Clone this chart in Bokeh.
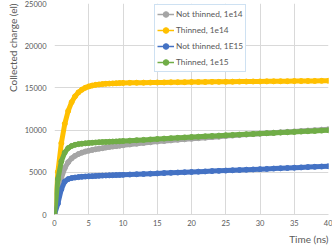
from bokeh.plotting import figure
from bokeh.models import Legend, LegendItem, FixedTicker, Range1d, Title
from bokeh.embed import file_html
from bokeh.resources import INLINE

time_ns = [0, 0.5, 1, 1.5, 2, 2.5, 3, 3.5, 4, 4.5, 5, 5.5, 6, 6.5, 7, 7.5, 8, 8.5, 9, 9.5, 10,
           11, 12, 13, 14, 15, 16, 17, 18, 19, 20, 21, 22, 23, 24, 25, 26, 27, 28, 29, 30,
           31, 32, 33, 34, 35, 36, 37, 38, 39, 40]

not_thinned_1e14 = [0, 2300, 4300, 5500, 6200, 6650, 6950, 7170, 7330, 7460, 7560, 7650, 7730, 7800, 7860, 7930, 8000, 8050, 8100, 8150, 8200,
                    8300, 8390, 8480, 8560, 8640, 8710, 8780, 8850, 8910, 8970, 9040, 9100, 9165, 9225, 9290, 9350, 9410, 9470, 9525, 9580,
                    9630, 9685, 9735, 9790, 9840, 9890, 9945, 9995, 10050, 10100]

thinned_1e14 = [0, 5060, 8460, 10740, 12270, 13310, 14000, 14470, 14790, 15020, 15170, 15280, 15360, 15410, 15450, 15490, 15510, 15530, 15550, 15570, 15590,
                15600, 15610, 15620, 15630, 15640, 15650, 15660, 15670, 15680, 15690, 15700, 15705, 15715, 15720, 15730, 15735, 15745, 15750, 15760, 15765,
                15775, 15780, 15790, 15795, 15805, 15810, 15820, 15825, 15835, 15840]

not_thinned_1e15 = [0, 1300, 3000, 3900, 4200, 4320, 4380, 4430, 4470, 4500, 4520, 4545, 4570, 4590, 4610, 4625, 4640, 4655, 4670, 4685, 4700,
                    4735, 4770, 4800, 4835, 4870, 4905, 4940, 4970, 5005, 5040, 5075, 5105, 5140, 5170, 5205, 5240, 5270, 5305, 5335, 5370,
                    5405, 5440, 5475, 5510, 5545, 5580, 5615, 5650, 5685, 5720]

thinned_1e15 = [0, 4200, 6300, 7350, 7870, 8120, 8260, 8340, 8390, 8430, 8470, 8500, 8530, 8560, 8580, 8600, 8620, 8640, 8660, 8680, 8700,
                8750, 8800, 8840, 8890, 8940, 8990, 9040, 9085, 9135, 9180, 9220, 9260, 9305, 9345, 9385, 9425, 9465, 9510, 9550, 9590,
                9630, 9670, 9705, 9745, 9785, 9825, 9865, 9900, 9940, 9980]

series_labels = ["Not thinned, 1e14", "Thinned, 1e14", "Not thinned, 1E15", "Thinned, 1e15"]
series_colors = ["#A5A5A5", "#FFC000", "#4472C4", "#70AD47"]
x_ticks = [0, 5, 10, 15, 20, 25, 30, 35, 40]
y_ticks = [0, 5000, 10000, 15000, 20000, 25000]
x_title = "Time (ns)"
y_title = "Collected charge (el)"

FONT = "Lato"
TXT = "#595959"
GRID = "#D9D9D9"

p = figure(width=332, height=248, output_backend="svg", toolbar_location=None,
           title_location=None,
           x_range=Range1d(0, 40), y_range=Range1d(0, 25000),
           min_border_left=54, min_border_right=4, min_border_top=3, min_border_bottom=34)
p.outline_line_color = None
p.background_fill_color = "white"
p.border_fill_color = "white"

for ax in (p.xaxis[0], p.yaxis[0]):
    ax.major_tick_line_color = None
    ax.minor_tick_line_color = None
    ax.major_tick_out = 0
    ax.major_tick_in = 0
    ax.minor_tick_out = 0
    ax.major_label_text_font = FONT
    ax.major_label_text_font_size = "7.5px"
    ax.major_label_text_color = TXT

p.xaxis.ticker = FixedTicker(ticks=x_ticks)
p.yaxis.ticker = FixedTicker(ticks=y_ticks)
p.xaxis.axis_line_color = GRID
p.yaxis.axis_line_color = None
p.xaxis.major_label_standoff = 5
p.yaxis.major_label_standoff = 8
p.xgrid.ticker = FixedTicker(ticks=x_ticks)
p.ygrid.ticker = FixedTicker(ticks=y_ticks)
p.grid.grid_line_color = GRID
p.grid.grid_line_width = 1

p.add_layout(Title(text=x_title, align="right", standoff=4, offset=0,
                   text_font=FONT, text_font_size="10px", text_font_style="normal",
                   text_color=TXT), "below")
p.add_layout(Title(text=y_title, align="right", standoff=6, offset=0,
                   text_font=FONT, text_font_size="10px", text_font_style="normal",
                   text_color=TXT), "left")

series = [not_thinned_1e14, thinned_1e14, not_thinned_1e15, thinned_1e15]
items = []
for vals, color, label in zip(series, series_colors, series_labels):
    p.line(time_ns, vals, line_width=5, color=color, line_join="round", line_cap="round")
    thin = p.line(time_ns, vals, line_width=1.5, color=color)
    pts = p.scatter(time_ns, vals, size=5, color=color)
    items.append(LegendItem(label=label, renderers=[thin, pts]))

legend = Legend(items=items, location=(100, 142), margin=0, padding=2, spacing=2,
                glyph_width=17, glyph_height=14, label_height=14, label_standoff=2,
                label_text_font=FONT, label_text_font_size="8.3px", label_text_color=TXT,
                border_line_color="#9DC3E6", border_line_width=1,
                background_fill_color="white", background_fill_alpha=1)
p.add_layout(legend)

open("out.html", "w").write(file_html(p, INLINE))
